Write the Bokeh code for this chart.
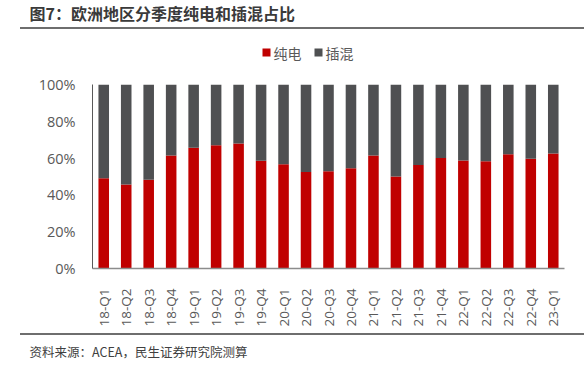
from bokeh.plotting import figure
from bokeh.layouts import column
from bokeh.models import Range1d, FactorRange, FixedTicker, PrintfTickFormatter, Div
from bokeh.core.properties import value
from bokeh.embed import file_html
from bokeh.resources import INLINE

# ---- data ----
quarters = ["18-Q1", "18-Q2", "18-Q3", "18-Q4",
            "19-Q1", "19-Q2", "19-Q3", "19-Q4",
            "20-Q1", "20-Q2", "20-Q3", "20-Q4",
            "21-Q1", "21-Q2", "21-Q3", "21-Q4",
            "22-Q1", "22-Q2", "22-Q3", "22-Q4",
            "23-Q1"]
bev = [49.1, 45.7, 48.2, 61.4, 65.6, 67.0, 67.9, 58.5, 56.7, 52.5, 52.9, 54.5,
       61.4, 50.0, 56.3, 60.0, 58.7, 58.3, 62.1, 59.6, 62.5]
phev = [50.9, 54.3, 51.8, 38.6, 34.4, 33.0, 32.1, 41.5, 43.3, 47.5, 47.1, 45.5,
        38.6, 50.0, 43.7, 40.0, 41.3, 41.7, 37.9, 40.4, 37.5]
series = ["纯电", "插混"]
colors = ["#C00000", "#4F5052"]
y_ticks = [0, 20, 40, 60, 80, 100]
title_text = "图7：欧洲地区分季度纯电和插混占比"
source_text = "资料来源：ACEA，民生证券研究院测算"

W = 584
CJK = "Noto Sans CJK SC"
LAT = "Open Sans"
GRAY = "#595959"
RULE = "#6E6E6E"


def blank(height):
    f = figure(width=W, height=height, x_range=Range1d(0, W), y_range=Range1d(0, height),
               output_backend="svg", toolbar_location=None, min_border=0,
               x_axis_location=None, y_axis_location=None, title=None, frame_align=False)
    f.grid.visible = False
    f.outline_line_color = None
    return f


def rule(top_gap):
    return Div(text="", width=W - 20, height=2, margin=(top_gap, 0, 0, 20),
               styles={"background-color": RULE, "overflow": "hidden"})


# ---- header: title ----
H1 = 27
head1 = blank(H1)
head1.text(x=[29], y=[H1 - 12.5], text=[title_text], text_font=value(CJK), text_font_size="16px",
           text_font_style="bold", text_color="#3A3A3A", text_baseline="middle", text_align="left")
rule1 = rule(0)

# ---- legend strip ----
H2 = 37
head2 = blank(H2)
leg_x = [266, 318]
head2.rect(x=leg_x, y=[14, 14], width=8, height=8, fill_color=colors, line_color=None)
head2.text(x=[x + 7 for x in leg_x], y=[14, 14], text=series, text_font=value(CJK),
           text_font_size="14px", text_color=GRAY, text_baseline="middle", text_align="left")

# ---- main chart ----
data = {"q": quarters, series[0]: bev, series[1]: phev}
p = figure(width=W, height=264, x_range=FactorRange(*quarters, range_padding=0),
           y_range=Range1d(0, 100), output_backend="svg", toolbar_location=None,
           min_border_left=92, min_border_right=20, min_border_top=18, min_border_bottom=62,
           frame_align=False)
p.vbar_stack(series, x="q", width=0.47, color=colors, source=data, line_color=None)
p.grid.visible = False
p.outline_line_color = None

p.yaxis.ticker = FixedTicker(ticks=y_ticks)
p.yaxis.formatter = PrintfTickFormatter(format="%d%%")
p.yaxis.major_tick_line_color = None
p.yaxis.minor_tick_line_color = None
p.yaxis.axis_line_color = "#595959"
p.yaxis.major_label_standoff = 11
p.yaxis.major_label_text_font = LAT
p.yaxis.major_label_text_font_size = "14.5px"
p.yaxis.major_label_text_color = GRAY

p.xaxis.major_tick_line_color = None
p.xaxis.minor_tick_line_color = None
p.xaxis.axis_line_color = "#8C8C8C"
p.xaxis.axis_line_width = 1.5
p.xaxis.major_label_orientation = 3.14159265 / 2
p.xaxis.major_label_standoff = 14
p.xaxis.major_label_text_font = LAT
p.xaxis.major_label_text_font_size = "13.5px"
p.xaxis.major_label_text_color = GRAY

# ---- footer ----
rule2 = rule(3)
FH = 31
footer = blank(FH)
footer.text(x=[29], y=[15], text=[source_text], text_font=value(CJK), text_font_size="12.5px",
            text_color="#404040", text_baseline="middle", text_align="left")

layout = column(head1, rule1, head2, p, rule2, footer, spacing=0)
open("out.html", "w").write(file_html(layout, INLINE))
